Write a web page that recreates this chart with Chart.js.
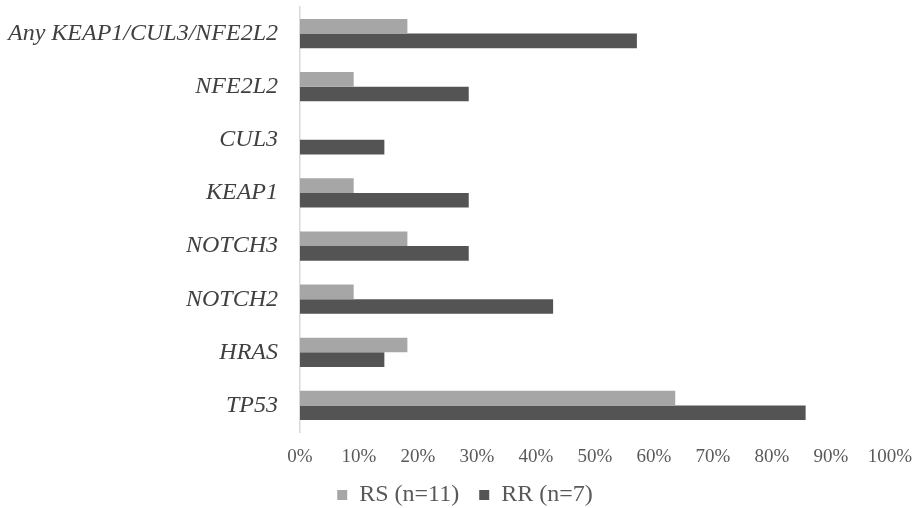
<!DOCTYPE html>
<html>
<head>
<meta charset="utf-8">
<script src="https://cdn.jsdelivr.net/npm/chart.js@4/dist/chart.umd.min.js"></script>
<style>
html,body{margin:0;padding:0;background:#fff;}
#wrap{width:915px;height:508px;position:relative;}
</style>
</head>
<body>
<div id="wrap"><canvas id="c"></canvas></div>
<script>
const categories = ["Any KEAP1/CUL3/NFE2L2","NFE2L2","CUL3","KEAP1","NOTCH3","NOTCH2","HRAS","TP53"];
const rsValues = [18.2, 9.1, 0, 9.1, 18.2, 9.1, 18.2, 63.6];
const rrValues = [57.1, 28.6, 14.3, 28.6, 28.6, 42.9, 14.3, 85.7];
const seriesNames = ["RS (n=11)", "RR (n=7)"];
const xTicks = [0,10,20,30,40,50,60,70,80,90,100];

const shiftLegend = {
  id: 'shiftLegend',
  beforeDraw(chart) {
    if (chart.legend) { chart.legend.left = 40; }
  }
};

new Chart(document.getElementById('c'), {
  type: 'bar',
  data: {
    labels: categories,
    datasets: [
      {label: seriesNames[0], data: rsValues, backgroundColor: '#a6a6a6', categoryPercentage: 0.55, barPercentage: 1.0},
      {label: seriesNames[1], data: rrValues, backgroundColor: '#545454', categoryPercentage: 0.55, barPercentage: 1.0}
    ]
  },
  plugins: [shiftLegend],
  options: {
    indexAxis: 'y',
    responsive: true,
    maintainAspectRatio: false,
    animation: false,
    layout: {padding: {left: 0, right: 25, top: 7, bottom: -9}},
    plugins: {
      tooltip: {enabled: false},
      legend: {
        position: 'bottom',
        labels: {
          font: {family: 'Liberation Serif', size: 24},
          color: '#595959',
          boxWidth: 10, boxHeight: 10,
          padding: 20
        }
      }
    },
    scales: {
      x: {
        min: 0, max: 100,
        afterBuildTicks: (s) => { s.ticks = xTicks.map(v => ({value: v})); },
        afterFit: (s) => { s.height = 31; s.paddingLeft = 0; s.paddingRight = 0; },
        ticks: {
          callback: (v) => v + '%',
          font: {family: 'Liberation Serif', size: 19},
          color: '#595959',
          padding: 6,
          maxRotation: 0
        },
        grid: {display: false},
        border: {display: false}
      },
      y: {
        afterFit: (s) => { s.width = 300; s.paddingTop = 0; s.paddingBottom = 0; },
        ticks: {
          font: {family: 'Liberation Serif', size: 24, style: 'italic'},
          color: '#404040',
          padding: 22
        },
        grid: {display: true, color: 'rgba(0,0,0,0)', drawTicks: false},
        border: {display: true, color: '#d9d9d9', width: 1.5}
      }
    }
  }
});
</script>
</body>
</html>
